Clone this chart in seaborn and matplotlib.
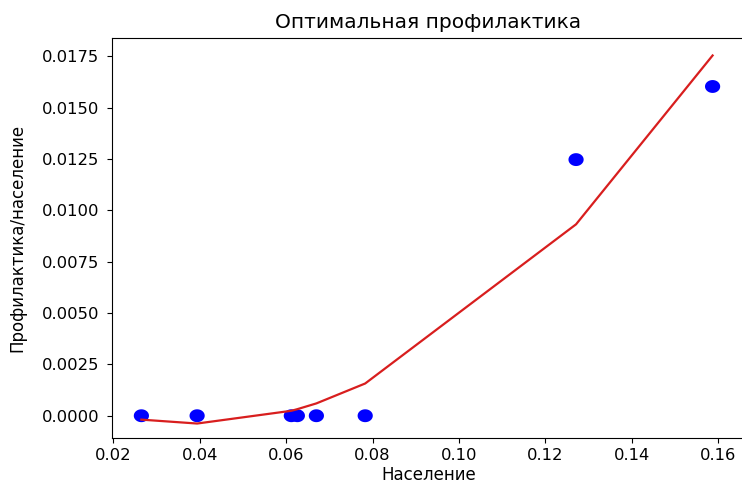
import numpy as np
import pandas as pd
import matplotlib
matplotlib.use("Agg")
import matplotlib.pyplot as plt
from matplotlib.path import Path
import seaborn as sns

# population share per region
naselenie = [0.0265, 0.0394, 0.0612, 0.0626, 0.0670, 0.0783, 0.1271, 0.1587]
# optimal prevention / population
profilaktika = [0.0, 0.0, 0.0, 0.0, 0.0, 0.0, 0.01247, 0.01603]
# fitted curve
approks = [-0.00019, -0.00038, 0.00024, 0.00032, 0.0006, 0.00157, 0.00932, 0.01754]

df = pd.DataFrame({"x": naselenie, "y": profilaktika, "fit": approks})

# slightly wide ellipse, the original picture looks stretched
t = np.linspace(0, 2 * np.pi, 40)
ellipse = Path(np.column_stack([1.18 * np.cos(t), np.sin(t)]), closed=True)

fig = plt.figure(figsize=(7.42, 4.88), dpi=100)
ax = fig.add_axes([112 / 742, 0.1018, 633 / 742, 0.8203])

sns.scatterplot(data=df, x="x", y="y", ax=ax, color="#0000ff", marker=ellipse,
                s=120, edgecolor="none", zorder=2)
sns.lineplot(data=df, x="x", y="fit", ax=ax, color="#d81e1e", linewidth=1.6,
             estimator=None, sort=False, zorder=3)

ax.set_title("Оптимальная профилактика", fontsize=14.5, pad=7)
ax.set_xlabel("Население", fontsize=12, labelpad=2)
ax.set_ylabel("Профилактика/население", fontsize=12, labelpad=11)
ax.tick_params(labelsize=11.8)
ax.tick_params(axis="y", pad=5.5)
ax.set_xticks([0.02, 0.04, 0.06, 0.08, 0.10, 0.12, 0.14, 0.16])
ax.set_yticks(np.arange(0, 0.0176, 0.0025))
ax.set_xlim(0.0197, 0.1662)
ax.set_ylim(-0.0011, 0.01839)

plt.savefig("out.png", dpi=100)
